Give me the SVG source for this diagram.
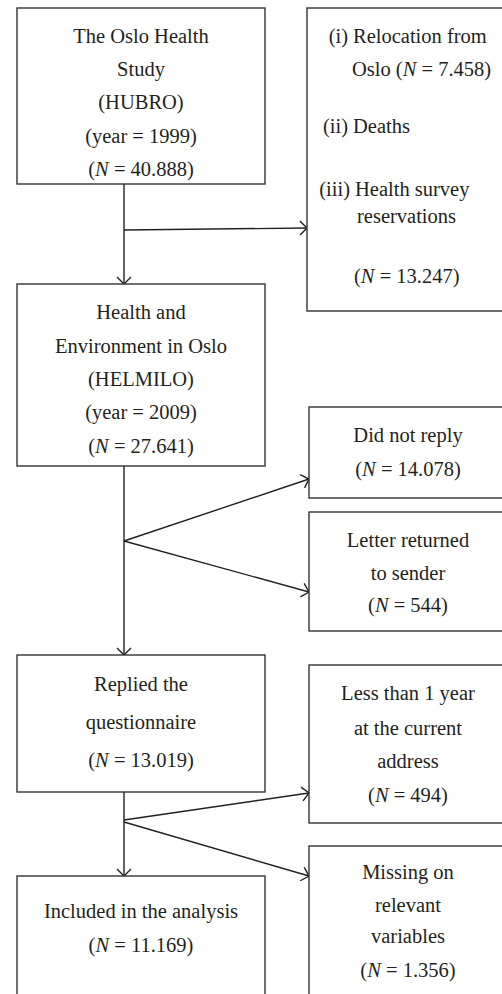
<svg xmlns="http://www.w3.org/2000/svg" width="502" height="994" viewBox="0 0 502 994">
<defs>
<style>
.box{fill:#fff;stroke:#333;stroke-width:1.4}
.t{font-family:"Liberation Serif","Times New Roman",serif;font-size:20.5px;fill:#231f20}
.c{text-anchor:middle}
.e{text-anchor:end}
.i{font-style:italic}
.ln{fill:none;stroke:#231f20;stroke-width:1.4}
</style>
<marker id="ah" markerUnits="userSpaceOnUse" markerWidth="10" markerHeight="16" refX="7" refY="7" orient="auto" overflow="visible">
<path d="M0,0 L7,7 L0,14" fill="none" stroke="#231f20" stroke-width="1.4"/>
</marker>
</defs>
<rect width="502" height="994" fill="#fff"/>
<g id="connectors">
<line class="ln" x1="124" y1="184" x2="124" y2="284" marker-end="url(#ah)"/>
<line class="ln" x1="124" y1="230" x2="307" y2="228" marker-end="url(#ah)"/>
<line class="ln" x1="124" y1="466" x2="124" y2="655" marker-end="url(#ah)"/>
<line class="ln" x1="124" y1="541" x2="309" y2="479" marker-end="url(#ah)"/>
<line class="ln" x1="124" y1="541" x2="309" y2="592" marker-end="url(#ah)"/>
<line class="ln" x1="124" y1="792" x2="124" y2="876" marker-end="url(#ah)"/>
<line class="ln" x1="124" y1="820" x2="309" y2="793" marker-end="url(#ah)"/>
<line class="ln" x1="124" y1="822" x2="309" y2="876" marker-end="url(#ah)"/>
</g>
<g id="hubro">
<rect class="box" x="17" y="8" width="248" height="176"/>
<text class="t c" x="141" y="43">The Oslo Health</text>
<text class="t c" x="141" y="76">Study</text>
<text class="t c" x="141" y="109">(HUBRO)</text>
<text class="t c" x="141" y="143">(year = 1999)</text>
<text class="t c" x="141" y="176">(<tspan class="i">N</tspan> = 40.888)</text>
</g>
<g id="exclusions1">
<rect class="box" x="307" y="8" width="210" height="303"/>
<text class="t e" x="348" y="43">(i)</text>
<text class="t" x="353" y="43">Relocation from</text>
<text class="t" x="352" y="76">Oslo (<tspan class="i">N</tspan> = 7.458)</text>
<text class="t e" x="348" y="133">(ii)</text>
<text class="t" x="353" y="133">Deaths</text>
<text class="t e" x="350" y="196">(iii)</text>
<text class="t" x="355" y="196">Health survey</text>
<text class="t" x="357" y="223">reservations</text>
<text class="t" x="354" y="283">(<tspan class="i">N</tspan> = 13.247)</text>
</g>
<g id="helmilo">
<rect class="box" x="17" y="284" width="248" height="182"/>
<text class="t c" x="141" y="319">Health and</text>
<text class="t c" x="141" y="353">Environment in Oslo</text>
<text class="t c" x="141" y="386">(HELMILO)</text>
<text class="t c" x="141" y="419">(year = 2009)</text>
<text class="t c" x="141" y="453">(<tspan class="i">N</tspan> = 27.641)</text>
</g>
<g id="noreply">
<rect class="box" x="309" y="407" width="198" height="91"/>
<text class="t c" x="408" y="442">Did not reply</text>
<text class="t c" x="408" y="476">(<tspan class="i">N</tspan> = 14.078)</text>
</g>
<g id="returned">
<rect class="box" x="309" y="512" width="198" height="119"/>
<text class="t c" x="408" y="547">Letter returned</text>
<text class="t c" x="408" y="580">to sender</text>
<text class="t c" x="408" y="612">(<tspan class="i">N</tspan> = 544)</text>
</g>
<g id="replied">
<rect class="box" x="17" y="655" width="248" height="137"/>
<text class="t c" x="141" y="691">Replied the</text>
<text class="t c" x="141" y="729">questionnaire</text>
<text class="t c" x="141" y="767">(<tspan class="i">N</tspan> = 13.019)</text>
</g>
<g id="lessthan">
<rect class="box" x="309" y="665" width="198" height="158"/>
<text class="t c" x="408" y="700">Less than 1 year</text>
<text class="t c" x="408" y="735">at the current</text>
<text class="t c" x="408" y="768">address</text>
<text class="t c" x="408" y="802">(<tspan class="i">N</tspan> = 494)</text>
</g>
<g id="included">
<rect class="box" x="17" y="876" width="248" height="130"/>
<text class="t c" x="141" y="918">Included in the analysis</text>
<text class="t c" x="141" y="952">(<tspan class="i">N</tspan> = 11.169)</text>
</g>
<g id="missing">
<rect class="box" x="309" y="846" width="198" height="160"/>
<text class="t c" x="408" y="879">Missing on</text>
<text class="t c" x="408" y="912">relevant</text>
<text class="t c" x="408" y="943">variables</text>
<text class="t c" x="408" y="977">(<tspan class="i">N</tspan> = 1.356)</text>
</g>
</svg>
